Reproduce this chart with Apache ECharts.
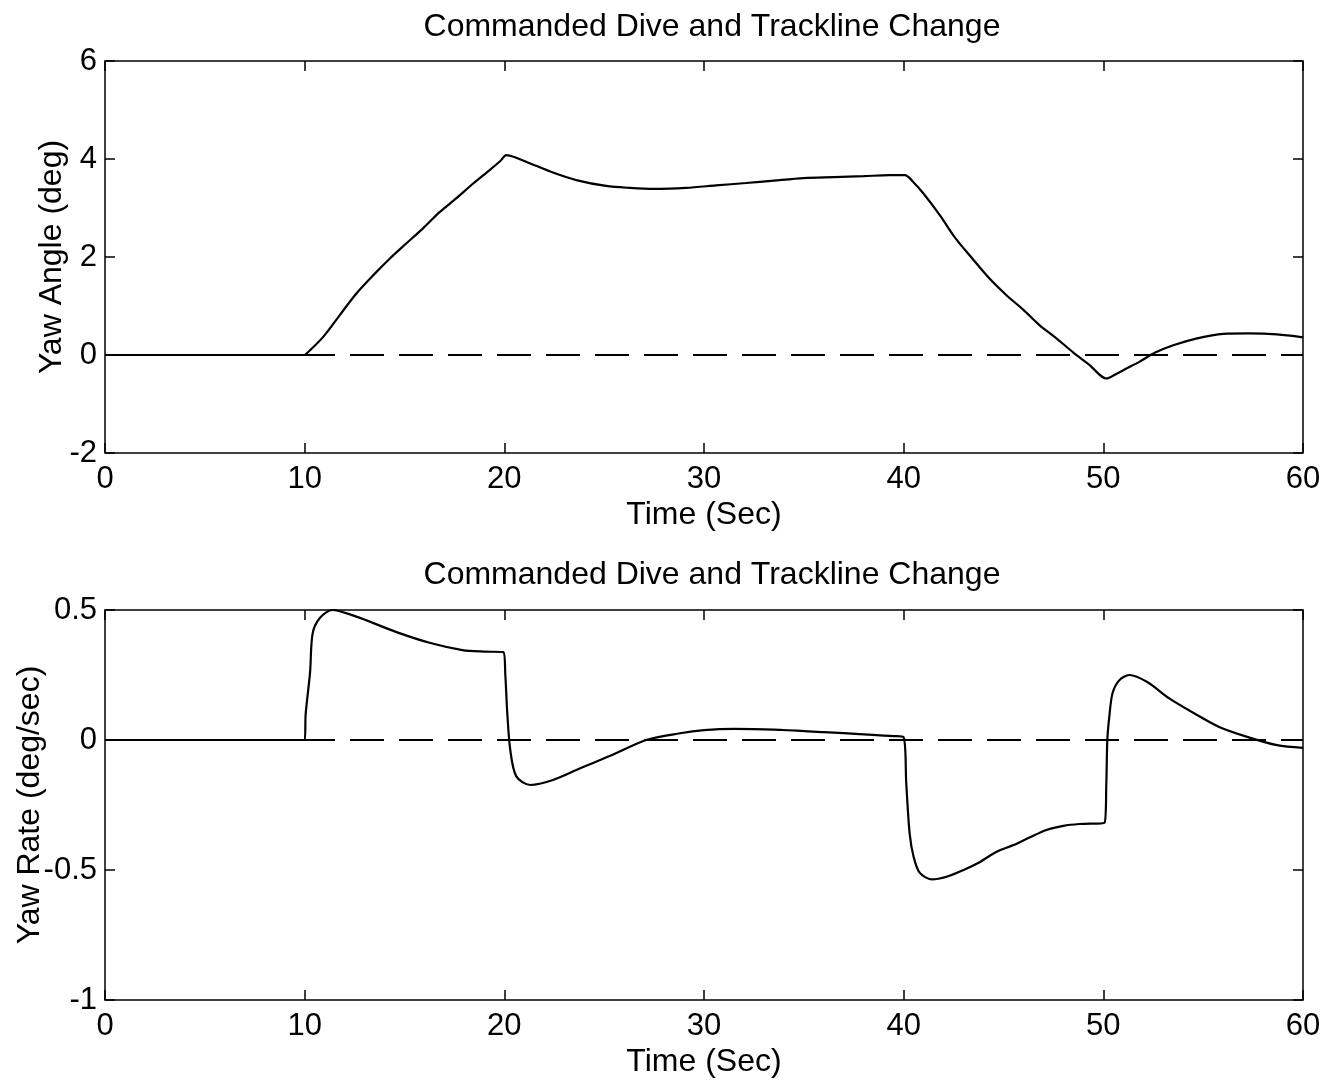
<!DOCTYPE html>
<html>
<head>
<meta charset="utf-8">
<script src="https://cdn.jsdelivr.net/npm/echarts@6/dist/echarts.min.js"></script>
<style>
  html, body { margin: 0; padding: 0; background: #fff; }
  #chart { width: 1335px; height: 1082px; }
</style>
</head>
<body>
<div id="chart"></div>
<script>
// Commanded dive and trackline change: yaw angle and yaw rate responses.
const titleText = 'Commanded Dive and Trackline Change';
const timeTicks = [0, 10, 20, 30, 40, 50, 60];

// Yaw angle (deg) vs time (s)
const angleTime = [0, 10, 10.1, 10.93, 11.77, 12.6, 13.44, 14.27, 15.1, 15.94, 16.77, 17.6, 18.44, 19.28, 19.8, 20.1, 20.5, 21.3, 22.4, 23.6, 25.1, 26.3, 27.5, 29.1, 30.6, 32.1, 33.5, 35.0, 36.5, 38.0, 39.3, 40.06, 40.5, 40.98, 41.8, 42.6, 43.5, 44.3, 45.15, 46.0, 46.8, 47.65, 48.5, 49.3, 50.15, 50.6, 51.0, 51.8, 52.6, 53.5, 54.7, 56.0, 57.3, 58.7, 60];
const angleDeg  = [0, 0, 0.03, 0.37, 0.82, 1.26, 1.63, 1.97, 2.28, 2.59, 2.92, 3.2, 3.5, 3.78, 3.96, 4.08, 4.04, 3.91, 3.73, 3.57, 3.45, 3.41, 3.39, 3.41, 3.46, 3.51, 3.56, 3.61, 3.63, 3.65, 3.67, 3.67, 3.52, 3.3, 2.86, 2.38, 1.94, 1.56, 1.22, 0.92, 0.61, 0.34, 0.05, -0.2, -0.48, -0.4, -0.31, -0.14, 0.05, 0.2, 0.34, 0.43, 0.44, 0.42, 0.36];

// Yaw rate (deg/sec) vs time (s)
const rateTime = [0, 10, 10.05, 10.27, 10.4, 10.77, 11.4, 12.2, 13.1, 14.6, 16.3, 17.9, 19.0, 19.95, 20.05, 20.15, 20.3, 20.6, 21.3, 22.4, 23.8, 25.4, 27.1, 28.8, 30.0, 31.5, 33.5, 36.0, 38.0, 39.5, 40.0, 40.13, 40.3, 40.5, 40.8, 41.4, 42.15, 43.0, 43.8, 44.65, 45.5, 46.3, 47.15, 48.0, 48.8, 50.06, 50.15, 50.2, 50.3, 50.46, 50.8, 51.3, 52.2, 53.3, 54.7, 55.8, 57.2, 58.7, 60];
const rateDeg  = [0, 0, 0.1, 0.26, 0.41, 0.47, 0.5, 0.485, 0.46, 0.415, 0.373, 0.346, 0.34, 0.338, 0.25, 0.1, -0.04, -0.14, -0.173, -0.155, -0.109, -0.058, 0, 0.026, 0.038, 0.043, 0.04, 0.03, 0.022, 0.015, 0.01, -0.167, -0.36, -0.45, -0.51, -0.536, -0.526, -0.5, -0.47, -0.43, -0.404, -0.375, -0.346, -0.33, -0.323, -0.318, -0.167, 0, 0.09, 0.18, 0.23, 0.25, 0.223, 0.16, 0.096, 0.05, 0.012, -0.02, -0.03];

// Commanded (reference) level for both plots
const refTime = [0, 60];
const refValue = [0, 0];

const angleTicks = { min: -2, max: 6, step: 2 };
const rateTicks = { min: -1, max: 0.5, step: 0.5 };

const pairs = (xs, ys) => xs.map((x, i) => [x, ys[i]]);

const FONT = 'Liberation Sans, Arial, Helvetica, sans-serif';
const ink = '#000';
const tickStyle = { show: true, inside: true, length: 10, lineStyle: { color: ink, width: 1.5 } };

function xAxes(gridIndex) {
  const base = {
    type: 'value', gridIndex,
    min: timeTicks[0], max: timeTicks[timeTicks.length - 1], interval: timeTicks[1] - timeTicks[0],
    splitLine: { show: false },
    axisLine: { show: false, onZero: false },
    axisTick: tickStyle
  };
  return [
    Object.assign({}, base, {
      position: 'bottom',
      name: 'Time (Sec)', nameLocation: 'middle', nameGap: 46,
      nameTextStyle: { fontFamily: FONT, fontSize: 32, color: ink },
      axisLabel: { show: true, margin: 11, fontFamily: FONT, fontSize: 31, color: ink }
    }),
    Object.assign({}, base, { position: 'top', axisLabel: { show: false } })
  ];
}

function yAxes(gridIndex, t, name, nameGap) {
  const base = {
    type: 'value', gridIndex,
    min: t.min, max: t.max, interval: t.step,
    splitLine: { show: false },
    axisLine: { show: false, onZero: false },
    axisTick: tickStyle
  };
  return [
    Object.assign({}, base, {
      position: 'left',
      name, nameLocation: 'middle', nameGap, nameMoveOverlap: false,
      nameTextStyle: { fontFamily: FONT, fontSize: 32, color: ink },
      axisLabel: { show: true, margin: 8, fontFamily: FONT, fontSize: 31, color: ink }
    }),
    Object.assign({}, base, { position: 'right', axisLabel: { show: false } })
  ];
}

const solid = { color: ink, width: 2.2 };
const dashed = { color: ink, width: 2, type: [34, 15] };

const gridBase = { left: 105, width: 1198, show: true, borderColor: ink, borderWidth: 1.5,
  backgroundColor: 'transparent', containLabel: false, outerBoundsMode: 'none' };

const option = {
  animation: false,
  backgroundColor: '#fff',
  title: [
    { text: titleText, left: 707, top: 6, textAlign: 'center',
      textStyle: { fontFamily: FONT, fontSize: 32, fontWeight: 'normal', color: ink } },
    { text: titleText, left: 707, top: 554, textAlign: 'center',
      textStyle: { fontFamily: FONT, fontSize: 32, fontWeight: 'normal', color: ink } }
  ],
  grid: [
    Object.assign({}, gridBase, { top: 61, height: 392 }),
    Object.assign({}, gridBase, { top: 610, height: 390 })
  ],
  xAxis: [...xAxes(0), ...xAxes(1)],
  yAxis: [
    ...yAxes(0, angleTicks, 'Yaw Angle (deg)', 37),
    ...yAxes(1, rateTicks, 'Yaw Rate (deg/sec)', 59)
  ],
  series: [
    { type: 'line', xAxisIndex: 0, yAxisIndex: 0, data: pairs(refTime, refValue), showSymbol: false, lineStyle: dashed, z: 2 },
    { type: 'line', xAxisIndex: 0, yAxisIndex: 0, data: pairs(angleTime, angleDeg), showSymbol: false, smooth: 0.3, lineStyle: solid, z: 3 },
    { type: 'line', xAxisIndex: 2, yAxisIndex: 2, data: pairs(refTime, refValue), showSymbol: false, lineStyle: dashed, z: 2 },
    { type: 'line', xAxisIndex: 2, yAxisIndex: 2, data: pairs(rateTime, rateDeg), showSymbol: false, smooth: 0.3, lineStyle: solid, z: 3 }
  ]
};

const chart = echarts.init(document.getElementById('chart'), null, { renderer: 'canvas' });
chart.setOption(option);
</script>
</body>
</html>
